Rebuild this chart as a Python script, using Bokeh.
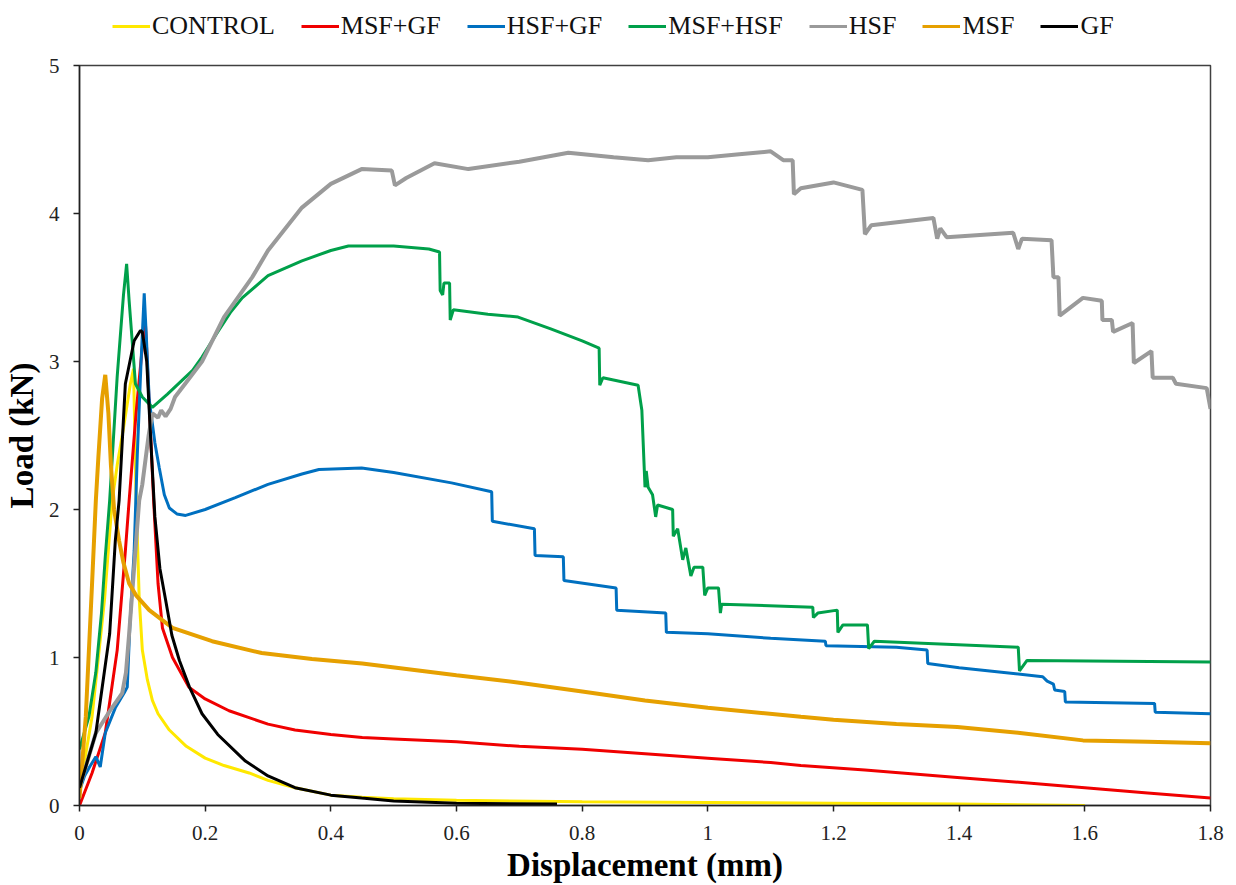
from bokeh.plotting import figure
from bokeh.layouts import column
from bokeh.models import Legend, LegendItem, FixedTicker, NumeralTickFormatter, Range1d
from bokeh.embed import file_html
from bokeh.resources import INLINE

# ---------------- data ----------------
control_x = [0, 0.01, 0.02, 0.03, 0.04, 0.052, 0.06, 0.07, 0.081, 0.086, 0.09, 0.095, 0.1, 0.108,
             0.116, 0.125, 0.143, 0.17, 0.2, 0.23, 0.27, 0.3, 0.343, 0.4, 0.45, 0.5, 0.6, 0.8,
             1.0, 1.2, 1.4, 1.6]
control_y = [0.1, 0.35, 0.6, 1.0, 1.4, 2.06, 2.3, 2.55, 2.85, 2.95, 2.1, 1.4, 1.05, 0.85,
             0.71, 0.62, 0.51, 0.4, 0.32, 0.27, 0.22, 0.17, 0.12, 0.07, 0.055, 0.045, 0.035, 0.025,
             0.02, 0.015, 0.01, 0.0]

msfgf_x = [0, 0.02, 0.041, 0.06, 0.073, 0.079, 0.09, 0.1, 0.105, 0.11, 0.118, 0.125, 0.132,
           0.148, 0.174, 0.2, 0.238, 0.3, 0.343, 0.4, 0.45, 0.5, 0.6, 0.7, 0.8, 0.9, 1.0,
           1.1, 1.148, 1.25, 1.397, 1.5, 1.6, 1.7, 1.8]
msfgf_y = [0.0, 0.22, 0.49, 1.05, 1.72, 2.06, 2.65, 3.1, 3.25, 2.8, 2.06, 1.5, 1.2,
           1.0, 0.8, 0.72, 0.64, 0.55, 0.51, 0.48, 0.46, 0.45, 0.43, 0.40, 0.38, 0.35, 0.32,
           0.29, 0.27, 0.24, 0.19, 0.155, 0.12, 0.085, 0.05]

hsfgf_x = [0, 0.008, 0.016, 0.026, 0.033, 0.041, 0.057, 0.071, 0.076, 0.08, 0.087, 0.092, 0.098,
           0.103, 0.106, 0.111, 0.12, 0.127, 0.135, 0.143, 0.155, 0.169, 0.2, 0.248, 0.3, 0.354,
           0.381, 0.449, 0.5, 0.592, 0.656, 0.657, 0.724, 0.725, 0.77, 0.771, 0.854, 0.855,
           0.933, 0.934, 1.0, 1.1, 1.187, 1.188, 1.3, 1.349, 1.35, 1.4, 1.49, 1.533, 1.54,
           1.55, 1.552, 1.568, 1.569, 1.711, 1.712, 1.8]
hsfgf_y = [0.1, 0.2, 0.26, 0.33, 0.26, 0.49, 0.66, 0.76, 0.8, 1.2, 1.72, 2.37, 3.0,
           3.46, 3.2, 2.74, 2.45, 2.28, 2.1, 2.01, 1.97, 1.96, 2.0, 2.08, 2.17, 2.24,
           2.27, 2.28, 2.25, 2.18, 2.12, 1.92, 1.87, 1.69, 1.68, 1.52, 1.47, 1.32,
           1.30, 1.17, 1.16, 1.13, 1.11, 1.08, 1.07, 1.05, 0.96, 0.93, 0.89, 0.87, 0.84,
           0.82, 0.78, 0.77, 0.70, 0.69, 0.63, 0.62]

msfhsf_x = [0, 0.015, 0.026, 0.035, 0.041, 0.048, 0.06, 0.07, 0.075, 0.079, 0.089, 0.1, 0.116,
            0.14, 0.18, 0.195, 0.22, 0.24, 0.259, 0.3, 0.354, 0.4, 0.428, 0.5, 0.556, 0.573,
            0.574, 0.578, 0.58, 0.589, 0.59, 0.595, 0.65, 0.698, 0.75, 0.8, 0.827, 0.828,
            0.833, 0.889, 0.895, 0.9, 0.902, 0.905, 0.912, 0.917, 0.92, 0.944, 0.945, 0.952,
            0.96, 0.965, 0.973, 0.978, 0.992, 0.995, 1.0, 1.017, 1.02, 1.022, 1.167, 1.168,
            1.175, 1.206, 1.207, 1.215, 1.254, 1.256, 1.265, 1.494, 1.496, 1.508, 1.8]
msfhsf_y = [0.38, 0.6, 0.9, 1.3, 1.68, 2.06, 2.9, 3.45, 3.66, 3.41, 2.85, 2.76, 2.69,
            2.78, 2.94, 3.03, 3.2, 3.33, 3.43, 3.58, 3.68, 3.75, 3.78, 3.78, 3.76, 3.74,
            3.48, 3.45, 3.53, 3.53, 3.28, 3.35, 3.32, 3.3, 3.22, 3.14, 3.09, 2.84,
            2.89, 2.84, 2.67, 2.15, 2.26, 2.15, 2.1, 1.95, 2.03, 2.0, 1.82, 1.87,
            1.66, 1.74, 1.55, 1.61, 1.61, 1.42, 1.47, 1.47, 1.30, 1.36, 1.34, 1.27,
            1.30, 1.32, 1.17, 1.22, 1.22, 1.06, 1.11, 1.07, 0.91, 0.98, 0.97]

hsf_x = [0, 0.026, 0.05, 0.068, 0.074, 0.079, 0.085, 0.095, 0.1, 0.11, 0.116, 0.125, 0.13,
         0.137, 0.145, 0.152, 0.17, 0.195, 0.23, 0.275, 0.3, 0.354, 0.4, 0.449, 0.497, 0.502,
         0.52, 0.565, 0.619, 0.7, 0.778, 0.85, 0.905, 0.95, 1.0, 1.05, 1.1, 1.12, 1.135,
         1.137, 1.148, 1.2, 1.246, 1.25, 1.26, 1.359, 1.365, 1.37, 1.38, 1.486, 1.494, 1.5,
         1.547, 1.55, 1.558, 1.56, 1.597, 1.627, 1.628, 1.643, 1.645, 1.676, 1.678, 1.706,
         1.708, 1.74, 1.745, 1.794, 1.8]
hsf_y = [0.12, 0.49, 0.65, 0.76, 0.9, 1.16, 1.5, 2.06, 2.17, 2.5, 2.65, 2.62, 2.67,
         2.63, 2.68, 2.76, 2.86, 3.0, 3.3, 3.57, 3.75, 4.04, 4.2, 4.30, 4.29, 4.19,
         4.24, 4.34, 4.30, 4.35, 4.41, 4.38, 4.36, 4.38, 4.38, 4.40, 4.42, 4.36, 4.36,
         4.13, 4.17, 4.21, 4.16, 3.86, 3.92, 3.97, 3.83, 3.9, 3.84, 3.87, 3.76, 3.83,
         3.82, 3.57, 3.57, 3.31, 3.43, 3.41, 3.28, 3.28, 3.2, 3.26, 2.99, 3.07,
         2.89, 2.89, 2.85, 2.82, 2.68]

msf_x = [0, 0.01, 0.02, 0.026, 0.03, 0.036, 0.041, 0.046, 0.05, 0.055, 0.063, 0.07, 0.079,
         0.09, 0.111, 0.148, 0.211, 0.29, 0.37, 0.45, 0.6, 0.7, 0.8, 0.9, 1.0, 1.148, 1.2,
         1.3, 1.397, 1.497, 1.597, 1.7, 1.8]
msf_y = [0.05, 0.6, 1.5, 2.06, 2.35, 2.75, 2.91, 2.65, 2.3, 2.0, 1.79, 1.64, 1.5,
         1.42, 1.32, 1.20, 1.11, 1.03, 0.99, 0.96, 0.88, 0.83, 0.77, 0.71, 0.66, 0.60, 0.58,
         0.55, 0.53, 0.49, 0.44, 0.43, 0.42]

gf_x = [0, 0.026, 0.048, 0.057, 0.063, 0.073, 0.087, 0.097, 0.1, 0.107, 0.113, 0.12, 0.128,
        0.137, 0.147, 0.159, 0.175, 0.195, 0.22, 0.264, 0.3, 0.343, 0.4, 0.449, 0.5, 0.6, 0.76]
gf_y = [0.12, 0.49, 1.16, 1.79, 2.06, 2.85, 3.14, 3.21, 3.2, 3.0, 2.5, 1.95, 1.6,
        1.39, 1.15, 0.98, 0.8, 0.62, 0.48, 0.30, 0.2, 0.12, 0.07, 0.05, 0.03, 0.015, 0.01]

x_ticks = [0, 0.2, 0.4, 0.6, 0.8, 1.0, 1.2, 1.4, 1.6, 1.8]
y_ticks = [0, 1, 2, 3, 4, 5]

series = [
    ("CONTROL", control_x, control_y, "#FFE800", 3),
    ("MSF+GF", msfgf_x, msfgf_y, "#F00000", 3),
    ("HSF+GF", hsfgf_x, hsfgf_y, "#0070C0", 3),
    ("MSF+HSF", msfhsf_x, msfhsf_y, "#00A04A", 3),
    ("HSF", hsf_x, hsf_y, "#9A9A9A", 4),
    ("MSF", msf_x, msf_y, "#E6A000", 4),
    ("GF", gf_x, gf_y, "#000000", 3),
]

FONT = "Liberation Serif"
W = 1236
LEG_H = 42

# ---------------- legend strip (above the chart) ----------------
lg = figure(width=W, height=LEG_H, output_backend="svg", toolbar_location=None,
            x_axis_location=None, y_axis_location=None,
            x_range=Range1d(0, 1), y_range=Range1d(0, 1),
            min_border=0, min_border_left=0, min_border_right=0,
            min_border_top=0, min_border_bottom=0)
lg.grid.visible = False
lg.outline_line_color = None
lg.background_fill_color = "white"
lg.border_fill_color = "white"

leg_items = []
for name, xs, ys, col, lw in series:
    # legend-key renderer: same series, drawn outside this strip's visible range
    r = lg.line(x=[x + 10 for x in xs[:2]], y=ys[:2], line_color=col, line_width=3)
    leg_items.append(LegendItem(label=name, renderers=[r]))

legend = Legend(items=leg_items, orientation="horizontal", location=(33, 1),
                label_text_font=FONT, label_text_font_size="26px",
                label_text_color="#111111",
                glyph_width=38, glyph_height=20, label_standoff=2, spacing=26,
                padding=0, margin=0, border_line_color=None, background_fill_alpha=0)
lg.add_layout(legend)

# ---------------- main chart ----------------
p = figure(width=W, height=885 - LEG_H, output_backend="svg", toolbar_location=None,
           x_range=Range1d(0, 1.8), y_range=Range1d(0, 5),
           min_border_left=77, min_border_right=26, min_border_top=65 - LEG_H,
           min_border_bottom=80)
p.background_fill_color = "white"
p.border_fill_color = "white"
p.outline_line_color = "#404040"
p.outline_line_width = 1.5
p.xgrid.visible = False
p.ygrid.visible = False

for name, xs, ys, col, lw in series:
    p.line(xs, ys, line_color=col, line_width=lw)

for ax in (p.xaxis[0], p.yaxis[0]):
    ax.axis_line_color = "#202020"
    ax.axis_line_width = 1.5
    ax.major_tick_line_color = "#202020"
    ax.major_tick_line_width = 1.5
    ax.major_tick_out = 6
    ax.major_tick_in = 0
    ax.minor_tick_out = 0
    ax.minor_tick_in = 0
    ax.major_label_text_font = FONT
    ax.major_label_text_font_size = "21px"
    ax.major_label_text_color = "#222222"
    ax.axis_label_text_font = FONT
    ax.axis_label_text_font_size = "33px"
    ax.axis_label_text_font_style = "bold"
    ax.axis_label_text_color = "black"
    ax.formatter = NumeralTickFormatter(format="0.[0]")

p.xaxis.ticker = FixedTicker(ticks=x_ticks)
p.yaxis.ticker = FixedTicker(ticks=y_ticks)
p.xaxis.axis_label = "Displacement (mm)"
p.yaxis.axis_label = "Load (kN)"
p.xaxis.major_label_standoff = 14
p.yaxis.major_label_standoff = 14
p.xaxis.axis_label_standoff = 4
p.yaxis.axis_label_standoff = 6

layout = column(lg, p, spacing=0)
open("out.html", "w").write(file_html(layout, INLINE))
